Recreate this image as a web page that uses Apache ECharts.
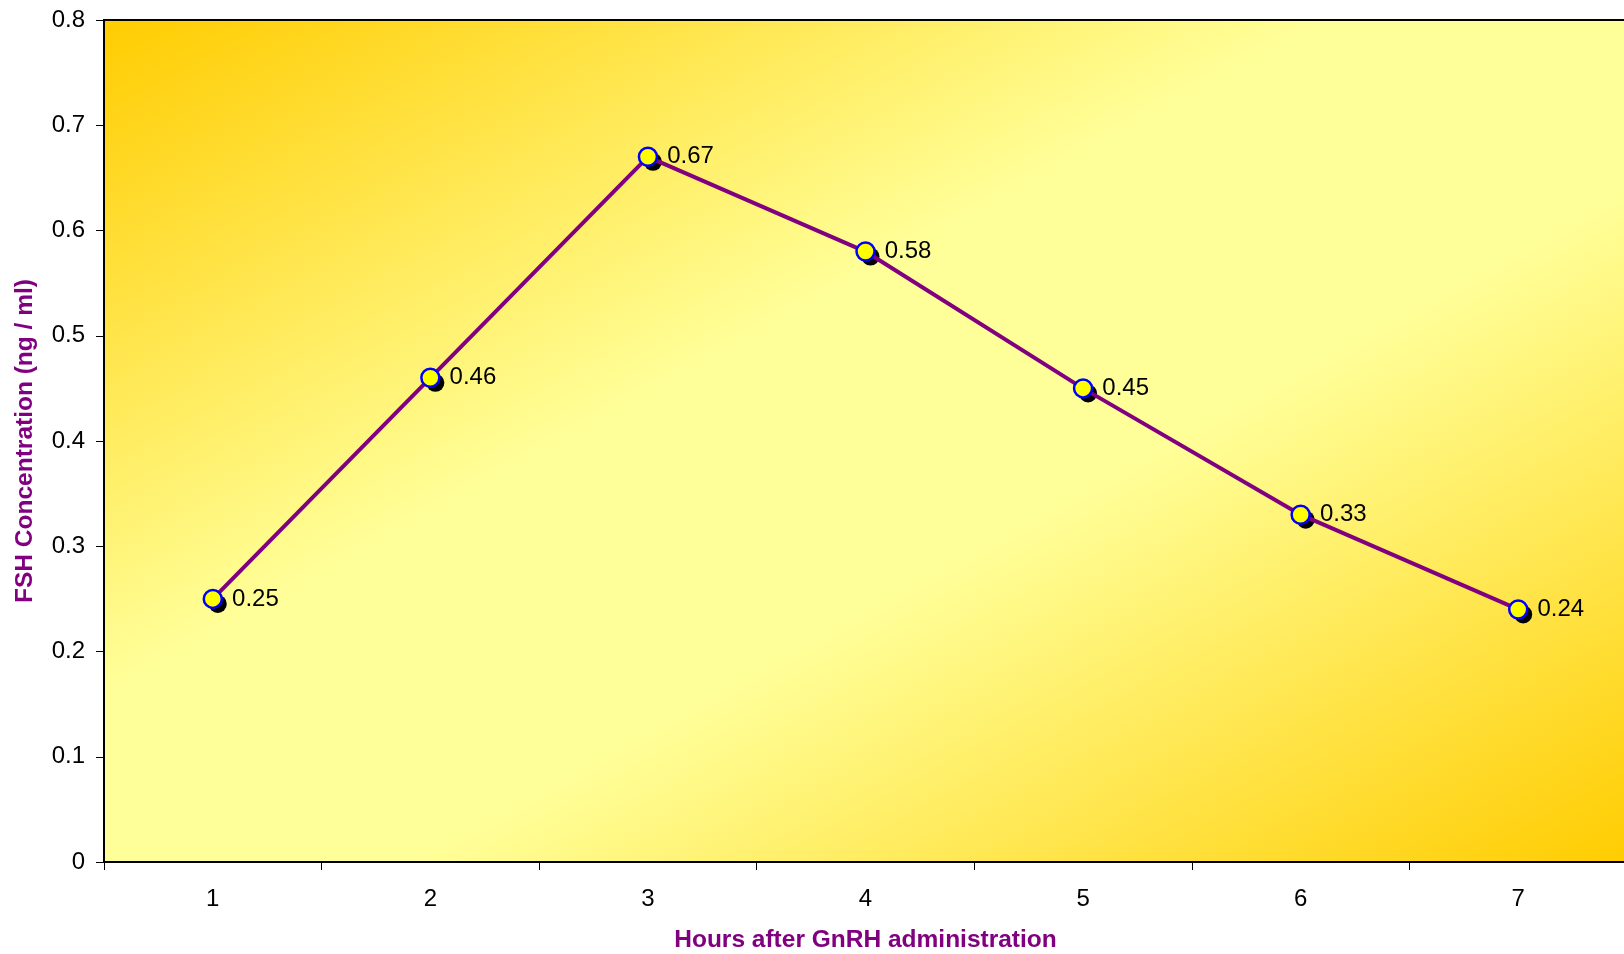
<!DOCTYPE html>
<html>
<head>
<meta charset="utf-8">
<title>FSH Concentration</title>
<script src="https://cdn.jsdelivr.net/npm/echarts@6/dist/echarts.min.js"></script>
<style>
  html, body { margin: 0; padding: 0; background: #fff; }
  #chart { width: 1624px; height: 954px; }
</style>
</head>
<body>
<div id="chart"></div>
<script>
// Hours after GnRH administration
const hours = ['1', '2', '3', '4', '5', '6', '7'];
// FSH concentration, ng/ml
const fshValues = [0.25, 0.46, 0.67, 0.58, 0.45, 0.33, 0.24];

const xTitle = 'Hours after GnRH administration';
const yTitle = 'FSH Concentration (ng / ml)';

const gridBox = { left: 104, top: 20, right: -3, bottom: 92 };
const font = 'Liberation Sans, Arial, sans-serif';

// Diagonal gradient whose bands run parallel to the plot's anti-diagonal,
// so the top-left and bottom-right corners are gold and the middle is pale.
function diagonalFill(w, h) {
  const s = w * w + h * h;
  return new echarts.graphic.LinearGradient(0, 0, 2 * h * h / s, 2 * w * w / s, [
    { offset: 0, color: '#FFCC00' },
    { offset: 0.4, color: '#FFFF99' },
    { offset: 0.6, color: '#FFFF99' },
    { offset: 1, color: '#FFCC00' }
  ]);
}

const chart = echarts.init(document.getElementById('chart'), null, { renderer: 'canvas' });
const plotW = 1624 - gridBox.left - gridBox.right;
const plotH = 954 - gridBox.top - gridBox.bottom;

chart.setOption({
  animation: false,
  backgroundColor: '#ffffff',
  grid: {
    left: gridBox.left,
    top: gridBox.top,
    right: gridBox.right,
    bottom: gridBox.bottom,
    containLabel: false,
    outerBoundsMode: 'none',
    show: true,
    backgroundColor: diagonalFill(plotW, plotH),
    borderColor: '#000000',
    borderWidth: 2
  },
  xAxis: {
    type: 'category',
    data: hours,
    boundaryGap: true,
    name: xTitle,
    nameLocation: 'middle',
    nameGap: 66,
    nameTextStyle: { color: '#800080', fontFamily: font, fontWeight: 'bold', fontSize: 24.5 },
    axisLine: { show: true, lineStyle: { color: '#000000', width: 2 } },
    axisTick: { show: true, alignWithLabel: false, length: 8, lineStyle: { color: '#000000', width: 1 } },
    axisLabel: { color: '#000000', fontFamily: font, fontSize: 24, margin: 25 },
    splitLine: { show: false }
  },
  yAxis: {
    type: 'value',
    min: 0,
    max: 0.8,
    interval: 0.1,
    name: yTitle,
    nameLocation: 'middle',
    nameGap: 66,
    nameRotate: 90,
    nameTextStyle: { color: '#800080', fontFamily: font, fontWeight: 'bold', fontSize: 24.5 },
    axisLine: { show: true, lineStyle: { color: '#000000', width: 2 } },
    axisTick: { show: true, length: 8, lineStyle: { color: '#000000', width: 1 } },
    axisLabel: {
      color: '#000000',
      fontFamily: font,
      fontSize: 24,
      margin: 19,
      formatter: v => (v === 0 ? '0' : v.toFixed(1))
    },
    splitLine: { show: false }
  },
  series: [
    {
      // solid drop shadow behind each marker
      type: 'scatter',
      data: fshValues,
      symbol: 'circle',
      symbolSize: 18,
      symbolOffset: [5, 5],
      itemStyle: { color: '#000000', opacity: 1 },
      silent: true,
      z: 2
    },
    {
      type: 'line',
      data: fshValues,
      symbol: 'circle',
      symbolSize: 18,
      lineStyle: { color: '#800080', width: 4 },
      itemStyle: { color: '#FFFF00', borderColor: '#0000FF', borderWidth: 2.5 },
      label: {
        show: true,
        position: 'right',
        distance: 9,
        color: '#000000',
        fontFamily: font,
        fontSize: 24,
        formatter: p => p.value.toFixed(2)
      },
      z: 3
    }
  ]
});
</script>
</body>
</html>
